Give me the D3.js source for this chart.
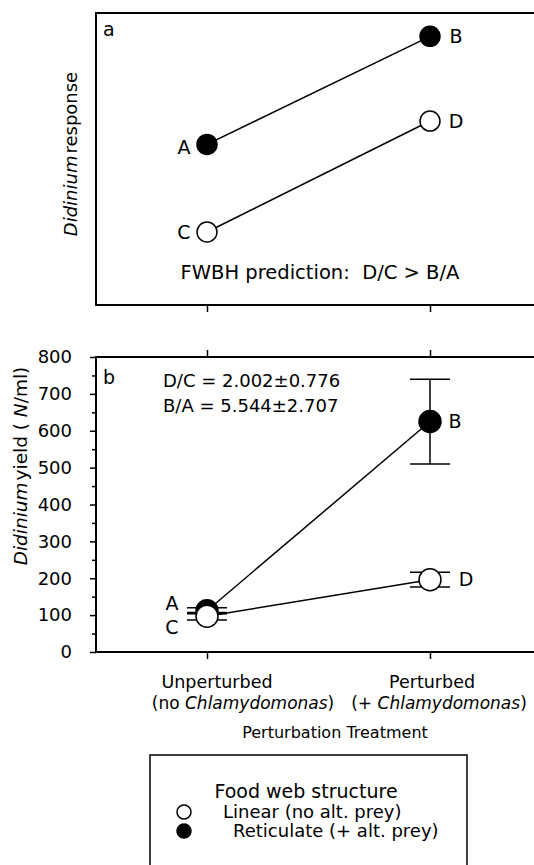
<!DOCTYPE html>
<html>
<meta charset="utf-8">
<head>
  <script src="https://d3js.org/d3.v7.min.js"></script>
  <style>
    body { margin: 0; background: #fff; }
    text { font-family: "DejaVu Sans", sans-serif; fill: #000; }
  </style>
</head>
<body>
<svg id="chart" width="534" height="865"></svg>
<script>
// ---- data ----
var treatments = ["Unperturbed", "Perturbed"];
var treatSub = ["no", "+"];
// panel a: conceptual prediction (arbitrary response units)
var predReticulate = [5.5, 9.2];   // A, B
var predLinear = [2.5, 6.3];       // C, D
// panel b: Didinium yield (N/ml)
var yieldReticulate = [112, 625];  // A, B
var errReticulate = [8, 115];
var yieldLinear = [97, 196];       // C, D
var errLinear = [10, 20];
var labReticulate = ["A", "B"];
var labLinear = ["C", "D"];
var yMajor = [0, 100, 200, 300, 400, 500, 600, 700, 800];
var yMinor = [50, 150, 250, 350, 450, 550, 650, 750];

var svg = d3.select("#chart");
var left = 96, right = 540;

var x = d3.scalePoint().domain(treatments).range([207, 430]);
var yA = d3.scaleLinear().domain([0, 10]).range([305, 13]);
var yB = d3.scaleLinear().domain([0, 800]).range([652, 357]);

function box(top, bottom) {
  svg.append("path")
    .attr("d", `M${right},${top}H${left}V${bottom}H${right}`)
    .attr("fill", "none").attr("stroke", "#000").attr("stroke-width", 2);
}
function noDomain(g) { g.select(".domain").remove(); g.selectAll(".tick line").attr("stroke-width", 1.5); }

// ---------- panel a ----------
box(13, 305);
svg.append("g").attr("transform", "translate(0,305)")
  .call(d3.axisBottom(x).tickSize(7).tickFormat(""))
  .call(noDomain);

var line = d3.line().x((d, i) => x(treatments[i])).y(d => d);

svg.append("path").datum(predReticulate.map(yA)).attr("d", line)
  .attr("fill", "none").attr("stroke", "#000").attr("stroke-width", 1.5);
svg.append("path").datum(predLinear.map(yA)).attr("d", line)
  .attr("fill", "none").attr("stroke", "#000").attr("stroke-width", 1.5);

svg.selectAll(".pa-ret").data(predReticulate).enter().append("circle")
  .attr("cx", (d, i) => x(treatments[i])).attr("cy", d => yA(d)).attr("r", 10)
  .attr("fill", "#000").attr("stroke", "#000").attr("stroke-width", 1.5);
svg.selectAll(".pa-lin").data(predLinear).enter().append("circle")
  .attr("cx", (d, i) => x(treatments[i])).attr("cy", d => yA(d)).attr("r", 10)
  .attr("fill", "#fff").attr("stroke", "#000").attr("stroke-width", 1.5);

var offA = [-23, 26];
svg.selectAll(".la-ret").data(predReticulate).enter().append("text")
  .attr("x", (d, i) => x(treatments[i]) + offA[i]).attr("y", (d, i) => yA(d) + (i ? 0 : 3))
  .attr("dy", "0.35em").attr("text-anchor", "middle").style("font-size", "19px")
  .text((d, i) => labReticulate[i]);
svg.selectAll(".la-lin").data(predLinear).enter().append("text")
  .attr("x", (d, i) => x(treatments[i]) + offA[i]).attr("y", d => yA(d))
  .attr("dy", "0.35em").attr("text-anchor", "middle").style("font-size", "19px")
  .text((d, i) => labLinear[i]);

svg.append("text").attr("x", 103).attr("y", 36).style("font-size", "19px").text("a");
svg.append("text").attr("x", 320).attr("y", 279).attr("text-anchor", "middle")
  .style("font-size", "19.5px").attr("xml:space", "preserve")
  .text("FWBH prediction:  D/C > B/A");

var ta = svg.append("text").attr("transform", "translate(77,154) rotate(-90)")
  .attr("text-anchor", "middle").style("font-size", "18px").attr("xml:space", "preserve");
ta.append("tspan").style("font-style", "italic").text("Didinium");
ta.append("tspan").attr("dx", 2).text("response");

// ---------- panel b ----------
box(357, 652);
svg.append("g").attr("transform", "translate(0,652)")
  .call(d3.axisBottom(x).tickSize(7).tickFormat(""))
  .call(noDomain);
svg.append("g").attr("transform", "translate(0,357)")
  .call(d3.axisTop(x).tickSize(7).tickFormat(""))
  .call(noDomain);
svg.append("g").attr("transform", `translate(${left},0)`)
  .call(d3.axisLeft(yB).tickValues(yMajor).tickSize(6).tickPadding(18))
  .call(noDomain)
  .call(g => g.selectAll("text").style("font-size", "18px").attr("font-family", null));
svg.append("g").attr("transform", `translate(${left},0)`)
  .call(d3.axisLeft(yB).tickValues(yMinor).tickSize(4).tickFormat(""))
  .call(noDomain);

var lineB = d3.line().x((d, i) => x(treatments[i])).y(d => yB(d));
svg.append("path").datum(yieldReticulate).attr("d", lineB)
  .attr("fill", "none").attr("stroke", "#000").attr("stroke-width", 1.5);
svg.append("path").datum(yieldLinear).attr("d", lineB)
  .attr("fill", "none").attr("stroke", "#000").attr("stroke-width", 1.5);

function errBars(vals, errs) {
  var g = svg.append("g").attr("stroke", "#000").attr("stroke-width", 1.5);
  vals.forEach(function (v, i) {
    var cx = x(treatments[i]);
    g.append("line").attr("x1", cx).attr("x2", cx)
      .attr("y1", yB(v - errs[i])).attr("y2", yB(v + errs[i]));
    [v - errs[i], v + errs[i]].forEach(function (e) {
      g.append("line").attr("x1", cx - 20).attr("x2", cx + 20)
        .attr("y1", yB(e)).attr("y2", yB(e));
    });
  });
}
errBars(yieldReticulate, errReticulate);
errBars(yieldLinear, errLinear);

svg.selectAll(".pb-ret").data(yieldReticulate).enter().append("circle")
  .attr("cx", (d, i) => x(treatments[i])).attr("cy", d => yB(d)).attr("r", 11)
  .attr("fill", "#000").attr("stroke", "#000").attr("stroke-width", 1.5);
svg.selectAll(".pb-lin").data(yieldLinear).enter().append("circle")
  .attr("cx", (d, i) => x(treatments[i])).attr("cy", d => yB(d)).attr("r", 11)
  .attr("fill", "#fff").attr("stroke", "#000").attr("stroke-width", 1.5);

var offBR = [[-35, -7], [25, 0]];
var offBL = [[-35, 11], [36, 0]];
svg.selectAll(".lb-ret").data(yieldReticulate).enter().append("text")
  .attr("x", (d, i) => x(treatments[i]) + offBR[i][0]).attr("y", (d, i) => yB(d) + offBR[i][1])
  .attr("dy", "0.35em").attr("text-anchor", "middle").style("font-size", "19px")
  .text((d, i) => labReticulate[i]);
svg.selectAll(".lb-lin").data(yieldLinear).enter().append("text")
  .attr("x", (d, i) => x(treatments[i]) + offBL[i][0]).attr("y", (d, i) => yB(d) + offBL[i][1])
  .attr("dy", "0.35em").attr("text-anchor", "middle").style("font-size", "19px")
  .text((d, i) => labLinear[i]);

svg.append("text").attr("x", 103).attr("y", 384).style("font-size", "19px").text("b");
svg.append("text").attr("x", 163).attr("y", 387).style("font-size", "18px").text("D/C = 2.002±0.776");
svg.append("text").attr("x", 163).attr("y", 412).style("font-size", "18px").text("B/A = 5.544±2.707");

var tb = svg.append("text").attr("transform", "translate(27,466) rotate(-90)")
  .attr("text-anchor", "middle").style("font-size", "18.5px").attr("xml:space", "preserve");
tb.append("tspan").style("font-style", "italic").text("Didinium");
tb.append("tspan").attr("dx", 2).text("yield ( ");
tb.append("tspan").style("font-style", "italic").text("N");
tb.append("tspan").text("/ml)");

// category labels
var catDx1 = [10, 2], catDx2 = [36, 9];
treatments.forEach(function (t, i) {
  svg.append("text").attr("x", x(t) + catDx1[i]).attr("y", 688)
    .attr("text-anchor", "middle").style("font-size", "17.5px").text(t);
  var l2 = svg.append("text").attr("x", x(t) + catDx2[i]).attr("y", 709)
    .attr("text-anchor", "middle").style("font-size", "17px");
  l2.append("tspan").text("(" + treatSub[i] + " ");
  l2.append("tspan").style("font-style", "italic").text("Chlamydomonas");
  l2.append("tspan").text(")");
});
svg.append("text").attr("x", 335).attr("y", 738).attr("text-anchor", "middle")
  .style("font-size", "16px").text("Perturbation Treatment");

// ---------- legend ----------
svg.append("rect").attr("x", 150).attr("y", 755).attr("width", 317).attr("height", 120)
  .attr("fill", "none").attr("stroke", "#000").attr("stroke-width", 1.5);
svg.append("text").attr("x", 306).attr("y", 791).attr("dy", "0.35em").attr("text-anchor", "middle")
  .style("font-size", "19px").text("Food web structure");
var legItems = [{ fill: "#fff", label: "Linear (no alt. prey)", tx: 223 },
                { fill: "#000", label: "Reticulate (+ alt. prey)", tx: 233 }];
var legY = d3.scalePoint().domain([0, 1]).range([812, 831]);
legItems.forEach(function (d, i) {
  svg.append("circle").attr("cx", 184).attr("cy", legY(i)).attr("r", 7)
    .attr("fill", d.fill).attr("stroke", "#000").attr("stroke-width", 1.5);
  svg.append("text").attr("x", d.tx).attr("y", legY(i)).attr("dy", "0.35em")
    .style("font-size", "18px").text(d.label);
});
</script>
</body>
</html>
